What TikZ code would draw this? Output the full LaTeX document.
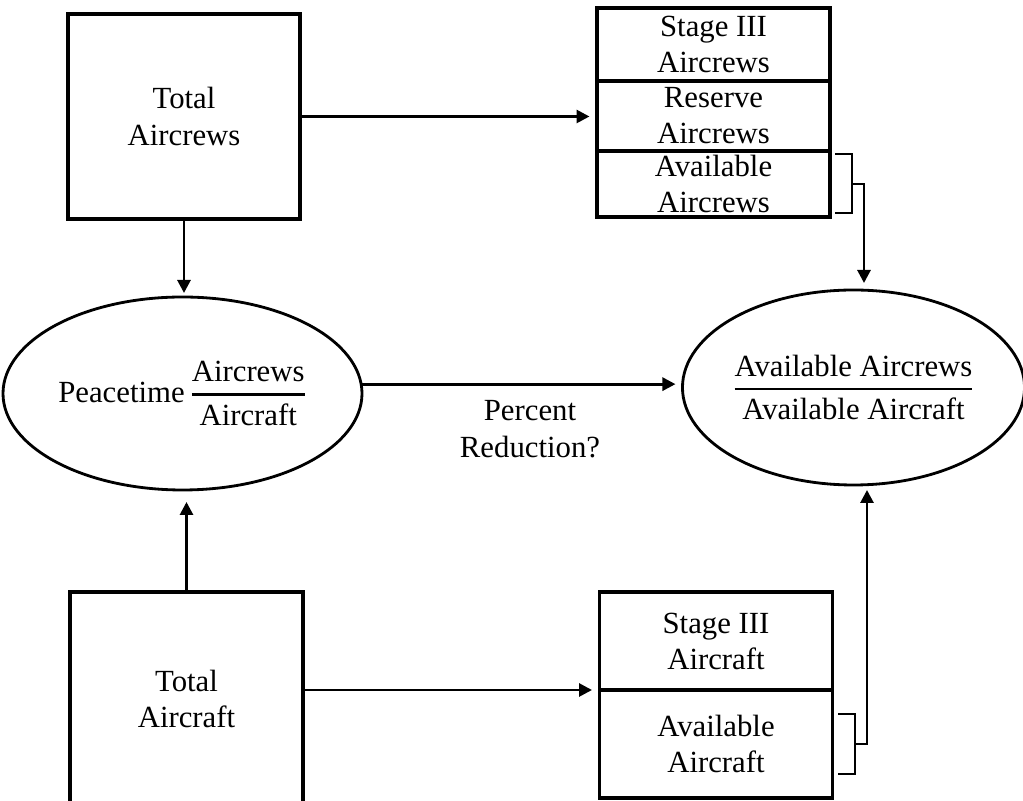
\documentclass[tikz,border=0pt]{standalone}
\usepackage{amsmath}
\usepackage{fontspec}
\setmainfont{Liberation Serif}
\usetikzlibrary{arrows.meta,shapes.geometric,positioning}
\definecolor{pen}{HTML}{000000}
\newcommand{\ratiofrac}[2]{\genfrac{}{}{1.5pt}{0}{\text{#1}}{\text{#2}}}
\tikzset{
  % ---- boxes -----------------------------------------------------
  total/.style      = {rectangle, draw=pen, line width=2pt, fill=white,
                       inner sep=0pt, outer sep=0pt, align=center,
                       font=\fontsize{17.5}{20.5}\selectfont},
  cellbox/.style    = {rectangle, draw=pen, line width=2pt,
                       inner sep=0pt, outer sep=0pt, minimum width=4.66cm,
                       align=center, font=\fontsize{17.5}{20.5}\selectfont},
  % ---- ratios ----------------------------------------------------
  ratio/.style      = {ellipse, draw=pen, line width=1.6pt, inner sep=0pt,
                       outer sep=0pt, font=\fontsize{17.5}{20.5}\selectfont},
  % ---- connectors ------------------------------------------------
  flow/.style       = {draw=pen, line width=1.6pt, shorten >=1.5mm,
                       -{Triangle[length=2.6mm,width=2.6mm]}},
  brk/.style        = {draw=pen, line width=1.6pt},
  lbl/.style        = {font=\fontsize{17.5}{21}\selectfont, text=pen,
                       align=center},
}
\begin{document}
\begin{tikzpicture}
  \useasboundingbox (0,0) rectangle (20.46,16.02);
  % left column
  \node[total, minimum width=4.64cm, minimum height=4.10cm] (crews) at (3.68,13.69) {Total\\Aircrews};
  \node[total, minimum width=4.66cm, minimum height=4.28cm] (craft) at (3.73,2.04) {Total\\Aircraft};
  % right stacks
  \node[cellbox, minimum height=1.46cm] (stgc) at (14.27,15.13) {Stage III\\Aircrews};
  \node[cellbox, minimum height=1.40cm, below=0pt of stgc] (resc) {Reserve\\Aircrews};
  \node[cellbox, minimum height=1.32cm, below=0pt of resc] (avlc) {Available\\Aircrews};
  \node[cellbox, minimum height=1.96cm] (stgf) at (14.32,3.20) {Stage III\\Aircraft};
  \node[cellbox, minimum height=2.16cm, below=0pt of stgf] (avlf) {Available\\Aircraft};
  % ratios
  \node[ratio, minimum width=7.18cm, minimum height=3.86cm] (peace) at (3.65,8.15) {Peacetime$\,\ratiofrac{Aircrews}{Aircraft}$};
  \node[ratio, minimum width=6.74cm, minimum height=3.90cm] (avail) at (17.07,8.27) {$\ratiofrac{Available Aircrews}{Available Aircraft}$};
  \node[lbl] (pct) at (10.6,7.44) {Percent\\Reduction?};
  % flows
  \draw[flow] (crews.east) -- (crews.east -| resc.west);
  \draw[flow] (craft.east |- stgf.south) -- (stgf.south west);
  \draw[flow, shorten >=0.8mm] (crews.south) -- (crews.south |- peace.north);
  \draw[flow, shorten >=2.4mm] (craft.north) -- (craft.north |- peace.south);
  \draw[flow, shorten >=1.4mm] (peace.3) -- (peace.3 -| avail.west);
  % brackets
  \draw[brk] ([xshift=1mm,yshift=-.6mm]avlc.north east) -| ([xshift=4.4mm,yshift=.8mm]avlc.south east) -- ([xshift=1mm,yshift=.8mm]avlc.south east);
  \draw[flow, shorten >=1.4mm] ([xshift=4.4mm]avlc.east) -| ([xshift=2.1mm]avail.north);
  \draw[brk] ([xshift=1.1mm,yshift=6mm]avlf.east) -| ([xshift=4.5mm,yshift=-6mm]avlf.east) -- ([xshift=1.1mm,yshift=-6mm]avlf.east);
  \draw[flow, shorten >=1mm] ([xshift=4.5mm]avlf.east) -| ([xshift=2.7mm]avail.south);
\end{tikzpicture}
\end{document}
